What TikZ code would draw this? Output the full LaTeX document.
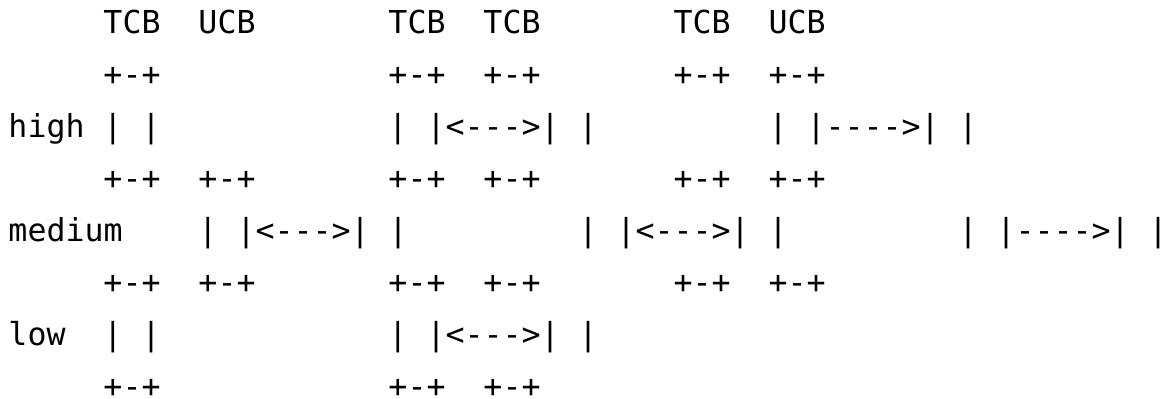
\documentclass[tikz,border=0pt]{standalone}
\usepackage{fontspec}
\setmonofont{DejaVu Sans Mono}
\usepackage{tikz}
\tikzset{
	ascii/.style={anchor=base west, inner sep=0pt, outer sep=0pt,
		font=\ttfamily\fontsize{15.8pt}{26pt}\selectfont}
}

\begin{document}
\begin{tikzpicture}[x=9.5pt, y=-26pt]
			%%%%% START %%%%%
			
			\useasboundingbox (-0.447, -0.635) rectangle (60.711, 7.019);
			
			% header
			\node[ascii] (tcbA) at (5, 0) {TCB};
			\node[ascii] (ucbA) at (10, 0) {UCB};
			\node[ascii] (tcbB) at (20, 0) {TCB};
			\node[ascii] (tcbC) at (25, 0) {TCB};
			\node[ascii] (tcbD) at (35, 0) {TCB};
			\node[ascii] (ucbD) at (40, 0) {UCB};
			
			\node[ascii] (topA) at (5, 1) {+-+};
			\node[ascii] (topB) at (20, 1) {+-+};
			\node[ascii] (topC) at (25, 1) {+-+};
			\node[ascii] (topD) at (35, 1) {+-+};
			\node[ascii] (topE) at (40, 1) {+-+};
			
			% high
			\node[ascii] (high) at (0, 2) {high};
			\node[ascii] (highA) at (5, 2) {| |};
			\node[ascii] (highB) at (20, 2) {| |<--->| |};
			\node[ascii] (highC) at (40, 2) {| |---->| |};
			
			\node[ascii] (midA) at (5, 3) {+-+};
			\node[ascii] (midB) at (10, 3) {+-+};
			\node[ascii] (midC) at (20, 3) {+-+};
			\node[ascii] (midD) at (25, 3) {+-+};
			\node[ascii] (midE) at (35, 3) {+-+};
			\node[ascii] (midF) at (40, 3) {+-+};
			
			% medium
			\node[ascii] (medium) at (0, 4) {medium};
			\node[ascii] (mediumA) at (10, 4) {| |<--->| |};
			\node[ascii] (mediumB) at (30, 4) {| |<--->| |};
			\node[ascii] (mediumC) at (50, 4) {| |---->| |};
			
			\node[ascii] (lowA) at (5, 5) {+-+};
			\node[ascii] (lowB) at (10, 5) {+-+};
			\node[ascii] (lowC) at (20, 5) {+-+};
			\node[ascii] (lowD) at (25, 5) {+-+};
			\node[ascii] (lowE) at (35, 5) {+-+};
			\node[ascii] (lowF) at (40, 5) {+-+};
			
			% low
			\node[ascii] (low) at (0, 6) {low};
			\node[ascii] (lowBoxA) at (5, 6) {| |};
			\node[ascii] (lowBoxB) at (20, 6) {| |<--->| |};
			
			\node[ascii] (botA) at (5, 7) {+-+};
			\node[ascii] (botB) at (20, 7) {+-+};
			\node[ascii] (botC) at (25, 7) {+-+};
			
			%%%%% END %%%%%
\end{tikzpicture}
\end{document}
